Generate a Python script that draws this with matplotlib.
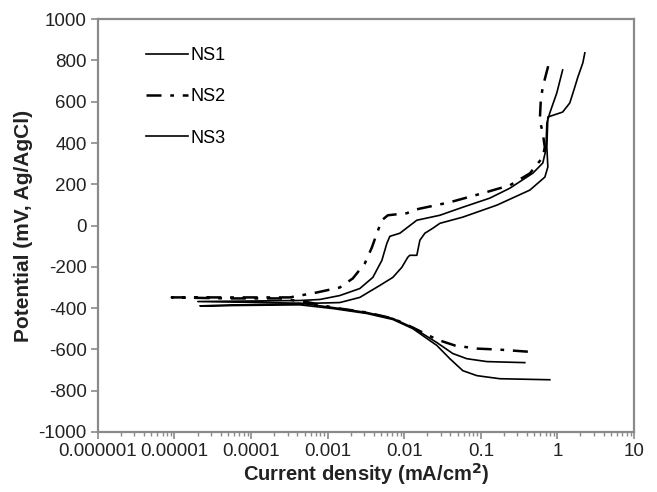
import matplotlib
matplotlib.use("Agg")
import matplotlib.pyplot as plt
import numpy as np
from matplotlib.ticker import LogLocator, FixedLocator, NullFormatter

plt.rcParams['font.family'] = ['Liberation Sans', 'DejaVu Sans']

# ---- data: current density (mA/cm^2) and potential (mV vs Ag/AgCl) ----
# each branch listed from the low-current tip outward
ns1_cath_i = [2.02e-5, 4.34e-4, 1.17e-3, 3.25e-3, 7.1e-3, 1.29e-2, 2.67e-2, 4.31e-2, 6.56e-2, 0.120, 0.375]
ns1_cath_E = [-368, -376, -397, -421, -450, -494, -567, -620, -645, -659, -664]
ns1_anod_i = [2.02e-5, 4.34e-4, 7.91e-4, 1.44e-3, 2.63e-3, 3.89e-3, 5.10e-3, 5.93e-3, 6.49e-3, 8.77e-3,
              1.46e-2, 2.92e-2, 5.82e-2, 0.131, 0.239, 0.478, 0.644, 0.706, 0.728, 0.796, 0.982, 1.17]
ns1_anod_E = [-368, -363, -358, -339, -305, -251, -169, -86, -52, -37,
              26, 50, 89, 133, 181, 254, 303, 366, 497, 546, 643, 754]

ns2_cath_i = [9.2e-6, 5.3e-5, 2.38e-4, 5.86e-4, 1.17e-3, 3.25e-3, 7.1e-3, 1.29e-2, 2.67e-2, 4.58e-2, 8.87e-2, 0.177, 0.411]
ns2_cath_E = [-348, -353, -353, -373, -397, -421, -450, -494, -552, -581, -596, -601, -611]
ns2_anod_i = [9.2e-6, 3.21e-4, 7.23e-4, 1.44e-3, 2.13e-3, 3.06e-3, 3.78e-3, 4.39e-3, 5.10e-3, 6.11e-3,
              1.08e-2, 1.46e-2, 3.94e-2, 0.106, 0.239, 0.437, 0.644, 0.684, 0.644, 0.589, 0.607, 0.644, 0.796]
ns2_anod_E = [-348, -348, -324, -300, -256, -183, -106, -38, 26, 50,
              60, 79, 113, 157, 195, 253, 331, 380, 448, 511, 609, 672, 803]

ns3_cath_i = [2.15e-5, 4.34e-4, 1.17e-3, 3.25e-3, 7.1e-3, 1.29e-2, 2.67e-2, 3.94e-2, 5.82e-2, 8.87e-2, 0.177, 0.796]
ns3_cath_E = [-389, -384, -402, -426, -455, -499, -581, -645, -703, -727, -742, -747]
ns3_anod_i = [2.15e-5, 4.34e-4, 1.44e-3, 2.63e-3, 4.80e-3, 7.1e-3, 9.31e-3, 1.11e-2, 1.18e-2, 1.46e-2,
              1.60e-2, 1.86e-2, 2.36e-2, 2.92e-2, 5.82e-2, 0.162, 0.437, 0.686, 0.750, 0.728, 0.750,
              1.17, 1.45, 1.69, 1.85, 2.15, 2.28]
ns3_anod_E = [-389, -378, -373, -348, -290, -251, -202, -154, -144, -144,
              -71, -37, -13, 11, 41, 99, 172, 235, 284, 380, 526,
              550, 594, 672, 720, 789, 837]

labels = ["NS1", "NS2", "NS3"]
x_ticks = [1e-6, 1e-5, 1e-4, 1e-3, 1e-2, 1e-1, 1, 10]
x_ticklabels = ["0.000001", "0.00001", "0.0001", "0.001", "0.01", "0.1", "1", "10"]
y_ticks = [-1000, -800, -600, -400, -200, 0, 200, 400, 600, 800, 1000]


def curve(ci, cE, ai, aE):
    i = list(reversed(ci)) + list(ai[1:])
    E = list(reversed(cE)) + list(aE[1:])
    return i, E


fig = plt.figure(figsize=(6.57, 4.92), dpi=100)
ax = fig.add_axes([0.149, 0.122, 0.816, 0.839])

series = [
    (curve(ns1_cath_i, ns1_cath_E, ns1_anod_i, ns1_anod_E), dict(color='black', lw=1.2, ls='-')),
    (curve(ns2_cath_i, ns2_cath_E, ns2_anod_i, ns2_anod_E), dict(color='black', lw=1.8, ls=(0, (6, 3.5, 1.5, 3.5)))),
    (curve(ns3_cath_i, ns3_cath_E, ns3_anod_i, ns3_anod_E), dict(color='black', lw=1.2, ls='-')),
]
for (xy, st), lab in zip(series, labels):
    ax.plot(xy[0], xy[1], label=lab, **st)

ax.set_xscale('log')
ax.set_xlim(1e-6, 10)
ax.set_ylim(-1000, 1000)
ax.xaxis.set_major_locator(FixedLocator(x_ticks))
ax.set_xticklabels(x_ticklabels)
ax.xaxis.set_minor_locator(LogLocator(base=10, subs=np.arange(2, 10)))
ax.xaxis.set_minor_formatter(NullFormatter())
ax.set_yticks(y_ticks)
ax.set_yticklabels([str(v) for v in y_ticks])

for sp in ax.spines.values():
    sp.set_color('#8a8a8a')
    sp.set_linewidth(1.6)

ax.tick_params(axis='both', which='major', direction='out', length=5, width=1.2,
               color='#8a8a8a', labelsize=13.5, labelcolor='#222222', pad=3)
ax.tick_params(axis='x', which='minor', direction='out', length=3, width=1.0, color='#8a8a8a')
ax.tick_params(top=False, right=False)

ax.set_xlabel("Current density (mA/cm$^\\mathbf{2}$)", fontsize=14.5, fontweight='bold', color='#222222', labelpad=1)
ax.set_ylabel("Potential (mV, Ag/AgCl)", fontsize=15, fontweight='bold', color='#222222', labelpad=4)

leg = ax.legend(loc='upper left', bbox_to_anchor=(0.06, 0.972), frameon=False, fontsize=13,
                handlelength=2.3, handletextpad=0.15, labelspacing=1.35)

fig.savefig("out.png", dpi=100)
